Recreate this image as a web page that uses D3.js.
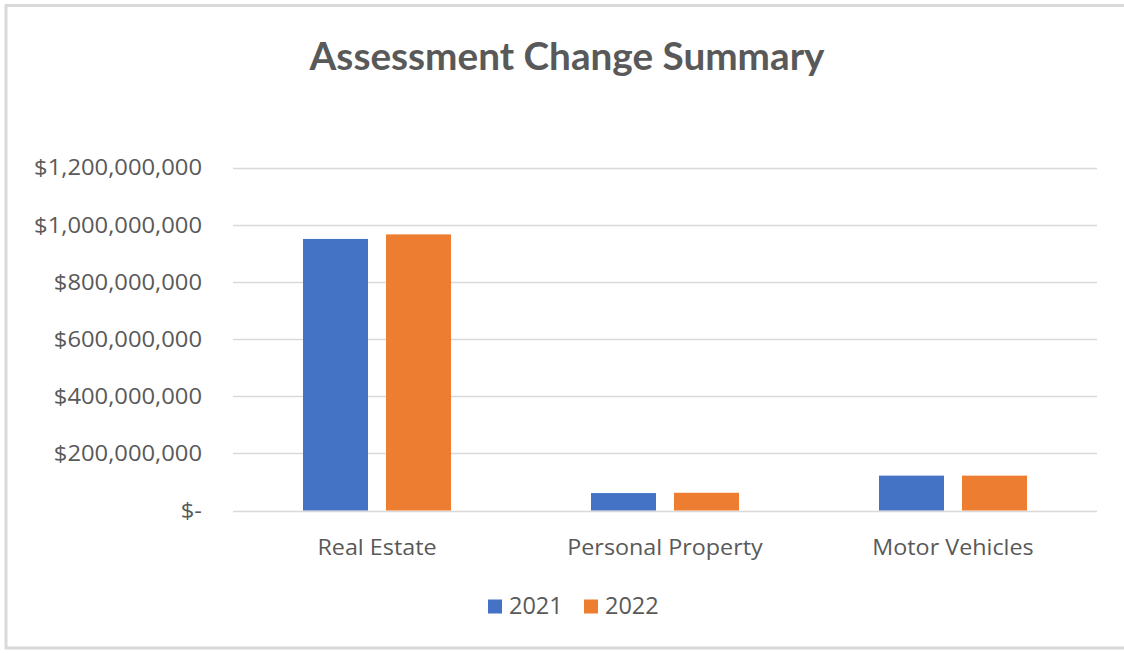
<!DOCTYPE html>
<html>
<head>
<meta charset="utf-8">
<script src="https://cdn.jsdelivr.net/npm/d3@7"></script>
<style>
  html, body { margin: 0; padding: 0; background: #fff; }
  svg { display: block; }
  text { font-family: "Open Sans", sans-serif; fill: #595959; }
  .title { font-family: Lato, sans-serif; }
</style>
</head>
<body>
<svg id="chart" width="1124" height="653"></svg>
<script>
const title = "Assessment Change Summary";
const categories = ["Real Estate", "Personal Property", "Motor Vehicles"];
const seriesNames = ["2021", "2022"];
const values2021 = [950000000, 61000000, 122000000];
const values2022 = [966000000, 62000000, 122000000];
const yTicks = [0, 200000000, 400000000, 600000000, 800000000, 1000000000, 1200000000];
const colors = ["#4472C4", "#ED7D31"];

const series = [values2021, values2022];
const svg = d3.select("#chart");

// frame
svg.append("rect").attr("x", 6).attr("y", 5.5).attr("width", 1130).attr("height", 642.5)
  .attr("fill", "none").attr("stroke", "#d9d9d9").attr("stroke-width", 3);

const plot = { left: 233, right: 1097, top: 167.5, bottom: 510.5 };

const y = d3.scaleLinear().domain([0, 1200000000]).range([plot.bottom, plot.top]);
const x0 = d3.scaleBand().domain(categories).range([plot.left, plot.right]).padding(0);
const x1 = d3.scaleBand().domain(seriesNames).range([0, x0.bandwidth()])
  .paddingInner(0.2169).paddingOuter(0.8434);

const fmt = v => v === 0 ? "$-" : "$" + d3.format(",")(v);

// gridlines
svg.append("g").selectAll("line").data(yTicks).join("line")
  .attr("x1", plot.left).attr("x2", plot.right)
  .attr("y1", d => Math.round(y(d)) + 0.5).attr("y2", d => Math.round(y(d)) + 0.5)
  .attr("stroke", "#d9d9d9").attr("stroke-width", 1.5);

// y labels
svg.append("g").selectAll("text").data(yTicks).join("text")
  .attr("x", 202).attr("y", d => y(d)).attr("dy", "0.36em")
  .attr("text-anchor", "end").attr("font-size", 22)
  .attr("textLength", function(d) { return null; })
  .text(fmt)
  .each(function() {
    const w = this.getComputedTextLength();
    d3.select(this).attr("textLength", w * 1.08).attr("lengthAdjust", "spacingAndGlyphs");
  });

// bars
const groups = svg.append("g").selectAll("g").data(categories).join("g")
  .attr("transform", d => `translate(${x0(d)},0)`);
groups.selectAll("rect").data((c, i) => seriesNames.map((s, j) => ({ s, j, v: series[j][i] })))
  .join("rect")
  .attr("x", d => x1(d.s)).attr("width", x1.bandwidth())
  .attr("y", d => y(d.v)).attr("height", d => y(0) - y(d.v))
  .attr("fill", d => colors[d.j]);

// category labels
svg.append("g").selectAll("text").data(categories).join("text")
  .attr("x", d => x0(d) + x0.bandwidth() / 2).attr("y", 555)
  .attr("text-anchor", "middle").attr("font-size", 22)
  .text(d => d)
  .each(function() {
    const w = this.getComputedTextLength();
    d3.select(this).attr("textLength", w * 1.06).attr("lengthAdjust", "spacingAndGlyphs");
  });

// title
svg.append("text").attr("class", "title").attr("x", 567).attr("y", 70).attr("text-anchor", "middle")
  .attr("font-size", 38).attr("font-weight", "bold")
  .attr("textLength", 515).attr("lengthAdjust", "spacingAndGlyphs").text(title);

// legend
const legendX = [488, 584];
const leg = svg.append("g").selectAll("g").data(seriesNames).join("g")
  .attr("transform", (d, i) => `translate(${legendX[i]},0)`);
leg.append("rect").attr("x", 0).attr("y", 599.5).attr("width", 14).attr("height", 14)
  .attr("fill", (d, i) => colors[i]);
leg.append("text").attr("x", 21).attr("y", 614).attr("font-size", 23.5).text(d => d);
</script>
</body>
</html>
